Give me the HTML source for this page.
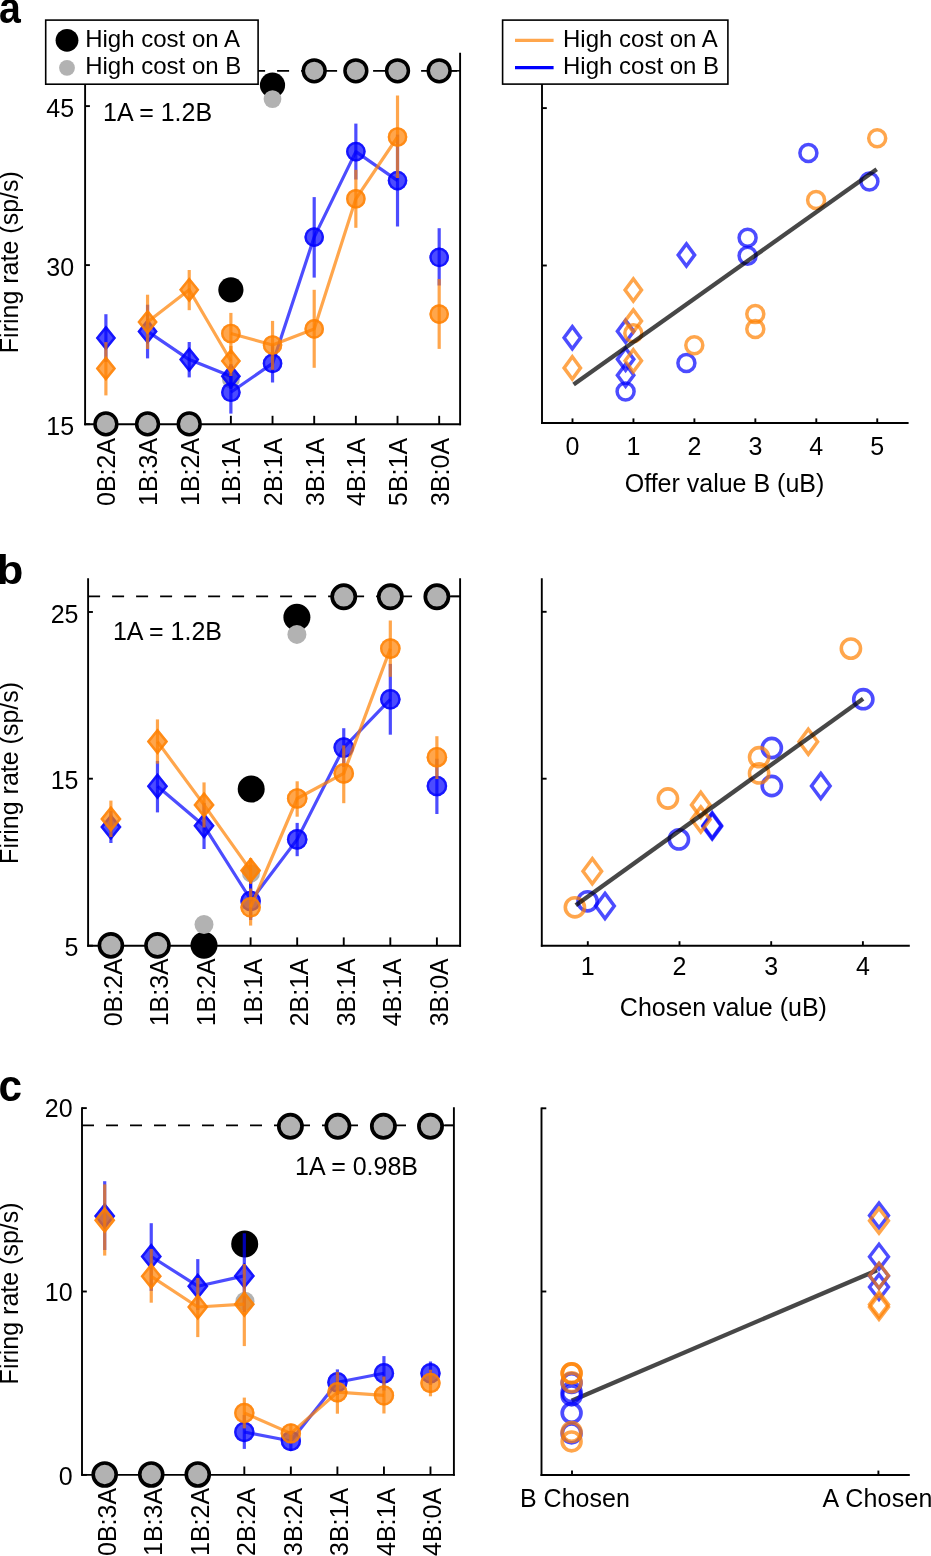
<!DOCTYPE html>
<html lang="en">
<head>
<meta charset="utf-8">
<title>Figure</title>
<style>
html,body{margin:0;padding:0;background:#fff;}
body{width:931px;height:1556px;overflow:hidden;}
svg{display:block;}
svg text{font-family:"Liberation Sans",sans-serif;fill:#000;}
</style>
</head>
<body>
<svg width="931" height="1556" viewBox="0 0 931 1556">
<rect x="0" y="0" width="931" height="1556" fill="#fff"/>
<line x1="85.10" y1="52.80" x2="85.10" y2="425.15" stroke="#000" stroke-width="1.9" />
<line x1="460.10" y1="52.80" x2="460.10" y2="425.15" stroke="#000" stroke-width="1.9" />
<line x1="84.15" y1="424.20" x2="461.05" y2="424.20" stroke="#000" stroke-width="1.9" />
<line x1="85.10" y1="106.10" x2="89.90" y2="106.10" stroke="#000" stroke-width="1.9" />
<text x="74.10" y="116.60" font-size="25" font-weight="normal" text-anchor="end" >45</text>
<line x1="85.10" y1="265.10" x2="89.90" y2="265.10" stroke="#000" stroke-width="1.9" />
<text x="74.10" y="275.60" font-size="25" font-weight="normal" text-anchor="end" >30</text>
<line x1="85.10" y1="424.20" x2="89.90" y2="424.20" stroke="#000" stroke-width="1.9" />
<text x="74.10" y="434.70" font-size="25" font-weight="normal" text-anchor="end" >15</text>
<line x1="105.90" y1="424.20" x2="105.90" y2="415.80" stroke="#000" stroke-width="1.9" />
<text x="115.50" y="437.90" font-size="25" font-weight="normal" text-anchor="end" transform="rotate(-90 115.50 437.90)" >0B:2A</text>
<line x1="147.56" y1="424.20" x2="147.56" y2="415.80" stroke="#000" stroke-width="1.9" />
<text x="157.16" y="437.90" font-size="25" font-weight="normal" text-anchor="end" transform="rotate(-90 157.16 437.90)" >1B:3A</text>
<line x1="189.22" y1="424.20" x2="189.22" y2="415.80" stroke="#000" stroke-width="1.9" />
<text x="198.82" y="437.90" font-size="25" font-weight="normal" text-anchor="end" transform="rotate(-90 198.82 437.90)" >1B:2A</text>
<line x1="230.88" y1="424.20" x2="230.88" y2="415.80" stroke="#000" stroke-width="1.9" />
<text x="240.48" y="437.90" font-size="25" font-weight="normal" text-anchor="end" transform="rotate(-90 240.48 437.90)" >1B:1A</text>
<line x1="272.54" y1="424.20" x2="272.54" y2="415.80" stroke="#000" stroke-width="1.9" />
<text x="282.14" y="437.90" font-size="25" font-weight="normal" text-anchor="end" transform="rotate(-90 282.14 437.90)" >2B:1A</text>
<line x1="314.20" y1="424.20" x2="314.20" y2="415.80" stroke="#000" stroke-width="1.9" />
<text x="323.80" y="437.90" font-size="25" font-weight="normal" text-anchor="end" transform="rotate(-90 323.80 437.90)" >3B:1A</text>
<line x1="355.86" y1="424.20" x2="355.86" y2="415.80" stroke="#000" stroke-width="1.9" />
<text x="365.46" y="437.90" font-size="25" font-weight="normal" text-anchor="end" transform="rotate(-90 365.46 437.90)" >4B:1A</text>
<line x1="397.52" y1="424.20" x2="397.52" y2="415.80" stroke="#000" stroke-width="1.9" />
<text x="407.12" y="437.90" font-size="25" font-weight="normal" text-anchor="end" transform="rotate(-90 407.12 437.90)" >5B:1A</text>
<line x1="439.18" y1="424.20" x2="439.18" y2="415.80" stroke="#000" stroke-width="1.9" />
<text x="448.78" y="437.90" font-size="25" font-weight="normal" text-anchor="end" transform="rotate(-90 448.78 437.90)" >3B:0A</text>
<line x1="85.10" y1="70.80" x2="460.10" y2="70.80" stroke="#000" stroke-width="1.7" stroke-dasharray="12 12"/>
<line x1="451.10" y1="70.80" x2="460.10" y2="70.80" stroke="#000" stroke-width="1.5" />
<text x="18.40" y="262.20" font-size="25" font-weight="normal" text-anchor="middle" transform="rotate(-90 18.40 262.20)" >Firing rate (sp/s)</text>
<text x="103.00" y="120.60" font-size="25" font-weight="normal" text-anchor="start" >1A = 1.2B</text>
<circle cx="230.90" cy="289.80" r="12.6" fill="#000"/>
<circle cx="230.90" cy="379.50" r="8.9" fill="#b2b2b2"/>
<circle cx="272.50" cy="85.10" r="12.6" fill="#000"/>
<circle cx="272.50" cy="99.10" r="8.9" fill="#b2b2b2"/>
<line x1="105.90" y1="314.20" x2="105.90" y2="361.80" stroke="#0000ff" stroke-width="3.2" stroke-opacity="0.7"/>
<line x1="147.56" y1="304.70" x2="147.56" y2="358.40" stroke="#0000ff" stroke-width="3.2" stroke-opacity="0.7"/>
<line x1="189.22" y1="342.00" x2="189.22" y2="377.40" stroke="#0000ff" stroke-width="3.2" stroke-opacity="0.7"/>
<line x1="230.88" y1="364.00" x2="230.88" y2="389.00" stroke="#0000ff" stroke-width="3.2" stroke-opacity="0.7"/>
<line x1="230.88" y1="371.00" x2="230.88" y2="413.60" stroke="#0000ff" stroke-width="3.2" stroke-opacity="0.7"/>
<line x1="272.54" y1="344.30" x2="272.54" y2="382.50" stroke="#0000ff" stroke-width="3.2" stroke-opacity="0.7"/>
<line x1="314.20" y1="197.10" x2="314.20" y2="277.60" stroke="#0000ff" stroke-width="3.2" stroke-opacity="0.7"/>
<line x1="355.86" y1="123.60" x2="355.86" y2="179.50" stroke="#0000ff" stroke-width="3.2" stroke-opacity="0.7"/>
<line x1="397.52" y1="134.60" x2="397.52" y2="226.50" stroke="#0000ff" stroke-width="3.2" stroke-opacity="0.7"/>
<line x1="439.18" y1="228.20" x2="439.18" y2="285.50" stroke="#0000ff" stroke-width="3.2" stroke-opacity="0.7"/>
<polyline points="147.56,331.40 189.22,359.60 230.88,376.30" fill="none" stroke="#0000ff" stroke-width="3.2" stroke-opacity="0.7" stroke-linejoin="round"/>
<polyline points="230.88,392.30 272.54,363.40 314.20,237.10 355.86,151.60 397.52,180.60" fill="none" stroke="#0000ff" stroke-width="3.2" stroke-opacity="0.7" stroke-linejoin="round"/>
<polygon points="105.90,325.40 116.00,338.00 105.90,350.60 95.80,338.00" fill="#0000ff" fill-opacity="0.7"/>
<polygon points="105.90,327.40 114.40,338.00 105.90,348.60 97.40,338.00" fill="none" stroke="#0000ff" stroke-width="2.5" stroke-opacity="0.7" stroke-linejoin="miter" stroke-miterlimit="10"/>
<polygon points="147.56,318.80 157.66,331.40 147.56,344.00 137.46,331.40" fill="#0000ff" fill-opacity="0.7"/>
<polygon points="147.56,320.80 156.06,331.40 147.56,342.00 139.06,331.40" fill="none" stroke="#0000ff" stroke-width="2.5" stroke-opacity="0.7" stroke-linejoin="miter" stroke-miterlimit="10"/>
<polygon points="189.22,347.00 199.32,359.60 189.22,372.20 179.12,359.60" fill="#0000ff" fill-opacity="0.7"/>
<polygon points="189.22,349.00 197.72,359.60 189.22,370.20 180.72,359.60" fill="none" stroke="#0000ff" stroke-width="2.5" stroke-opacity="0.7" stroke-linejoin="miter" stroke-miterlimit="10"/>
<polygon points="230.88,363.70 240.98,376.30 230.88,388.90 220.78,376.30" fill="#0000ff" fill-opacity="0.7"/>
<polygon points="230.88,365.70 239.38,376.30 230.88,386.90 222.38,376.30" fill="none" stroke="#0000ff" stroke-width="2.5" stroke-opacity="0.7" stroke-linejoin="miter" stroke-miterlimit="10"/>
<circle cx="230.88" cy="392.30" r="9.80" fill="#0000ff" fill-opacity="0.7"/>
<circle cx="230.88" cy="392.30" r="8.60" fill="none" stroke="#0000ff" stroke-width="2.4" stroke-opacity="0.7"/>
<circle cx="272.54" cy="363.40" r="9.80" fill="#0000ff" fill-opacity="0.7"/>
<circle cx="272.54" cy="363.40" r="8.60" fill="none" stroke="#0000ff" stroke-width="2.4" stroke-opacity="0.7"/>
<circle cx="314.20" cy="237.10" r="9.80" fill="#0000ff" fill-opacity="0.7"/>
<circle cx="314.20" cy="237.10" r="8.60" fill="none" stroke="#0000ff" stroke-width="2.4" stroke-opacity="0.7"/>
<circle cx="355.86" cy="151.60" r="9.80" fill="#0000ff" fill-opacity="0.7"/>
<circle cx="355.86" cy="151.60" r="8.60" fill="none" stroke="#0000ff" stroke-width="2.4" stroke-opacity="0.7"/>
<circle cx="397.52" cy="180.60" r="9.80" fill="#0000ff" fill-opacity="0.7"/>
<circle cx="397.52" cy="180.60" r="8.60" fill="none" stroke="#0000ff" stroke-width="2.4" stroke-opacity="0.7"/>
<circle cx="439.18" cy="257.40" r="9.80" fill="#0000ff" fill-opacity="0.7"/>
<circle cx="439.18" cy="257.40" r="8.60" fill="none" stroke="#0000ff" stroke-width="2.4" stroke-opacity="0.7"/>
<line x1="105.90" y1="342.10" x2="105.90" y2="395.40" stroke="#ff8000" stroke-width="3.2" stroke-opacity="0.7"/>
<line x1="147.56" y1="294.70" x2="147.56" y2="349.00" stroke="#ff8000" stroke-width="3.2" stroke-opacity="0.7"/>
<line x1="189.22" y1="270.00" x2="189.22" y2="310.20" stroke="#ff8000" stroke-width="3.2" stroke-opacity="0.7"/>
<line x1="230.88" y1="346.00" x2="230.88" y2="376.00" stroke="#ff8000" stroke-width="3.2" stroke-opacity="0.7"/>
<line x1="230.88" y1="312.90" x2="230.88" y2="354.00" stroke="#ff8000" stroke-width="3.2" stroke-opacity="0.7"/>
<line x1="272.54" y1="320.90" x2="272.54" y2="369.80" stroke="#ff8000" stroke-width="3.2" stroke-opacity="0.7"/>
<line x1="314.20" y1="289.80" x2="314.20" y2="367.80" stroke="#ff8000" stroke-width="3.2" stroke-opacity="0.7"/>
<line x1="355.86" y1="169.80" x2="355.86" y2="227.80" stroke="#ff8000" stroke-width="3.2" stroke-opacity="0.7"/>
<line x1="397.52" y1="95.50" x2="397.52" y2="178.00" stroke="#ff8000" stroke-width="3.2" stroke-opacity="0.7"/>
<line x1="439.18" y1="279.00" x2="439.18" y2="348.90" stroke="#ff8000" stroke-width="3.2" stroke-opacity="0.7"/>
<polyline points="147.56,322.00 189.22,289.80 230.88,361.00" fill="none" stroke="#ff8000" stroke-width="3.2" stroke-opacity="0.7" stroke-linejoin="round"/>
<polyline points="230.88,333.50 272.54,345.00 314.20,328.90 355.86,198.80 397.52,137.00" fill="none" stroke="#ff8000" stroke-width="3.2" stroke-opacity="0.7" stroke-linejoin="round"/>
<polygon points="105.90,355.90 116.00,368.50 105.90,381.10 95.80,368.50" fill="#ff8000" fill-opacity="0.7"/>
<polygon points="105.90,357.90 114.40,368.50 105.90,379.10 97.40,368.50" fill="none" stroke="#ff8000" stroke-width="2.5" stroke-opacity="0.7" stroke-linejoin="miter" stroke-miterlimit="10"/>
<polygon points="147.56,309.40 157.66,322.00 147.56,334.60 137.46,322.00" fill="#ff8000" fill-opacity="0.7"/>
<polygon points="147.56,311.40 156.06,322.00 147.56,332.60 139.06,322.00" fill="none" stroke="#ff8000" stroke-width="2.5" stroke-opacity="0.7" stroke-linejoin="miter" stroke-miterlimit="10"/>
<polygon points="189.22,277.20 199.32,289.80 189.22,302.40 179.12,289.80" fill="#ff8000" fill-opacity="0.7"/>
<polygon points="189.22,279.20 197.72,289.80 189.22,300.40 180.72,289.80" fill="none" stroke="#ff8000" stroke-width="2.5" stroke-opacity="0.7" stroke-linejoin="miter" stroke-miterlimit="10"/>
<polygon points="230.88,348.40 240.98,361.00 230.88,373.60 220.78,361.00" fill="#ff8000" fill-opacity="0.7"/>
<polygon points="230.88,350.40 239.38,361.00 230.88,371.60 222.38,361.00" fill="none" stroke="#ff8000" stroke-width="2.5" stroke-opacity="0.7" stroke-linejoin="miter" stroke-miterlimit="10"/>
<circle cx="230.88" cy="333.50" r="9.80" fill="#ff8000" fill-opacity="0.7"/>
<circle cx="230.88" cy="333.50" r="8.60" fill="none" stroke="#ff8000" stroke-width="2.4" stroke-opacity="0.7"/>
<circle cx="272.54" cy="345.00" r="9.80" fill="#ff8000" fill-opacity="0.7"/>
<circle cx="272.54" cy="345.00" r="8.60" fill="none" stroke="#ff8000" stroke-width="2.4" stroke-opacity="0.7"/>
<circle cx="314.20" cy="328.90" r="9.80" fill="#ff8000" fill-opacity="0.7"/>
<circle cx="314.20" cy="328.90" r="8.60" fill="none" stroke="#ff8000" stroke-width="2.4" stroke-opacity="0.7"/>
<circle cx="355.86" cy="198.80" r="9.80" fill="#ff8000" fill-opacity="0.7"/>
<circle cx="355.86" cy="198.80" r="8.60" fill="none" stroke="#ff8000" stroke-width="2.4" stroke-opacity="0.7"/>
<circle cx="397.52" cy="137.00" r="9.80" fill="#ff8000" fill-opacity="0.7"/>
<circle cx="397.52" cy="137.00" r="8.60" fill="none" stroke="#ff8000" stroke-width="2.4" stroke-opacity="0.7"/>
<circle cx="439.18" cy="314.10" r="9.80" fill="#ff8000" fill-opacity="0.7"/>
<circle cx="439.18" cy="314.10" r="8.60" fill="none" stroke="#ff8000" stroke-width="2.4" stroke-opacity="0.7"/>
<circle cx="105.90" cy="423.90" r="10.9" fill="#b2b2b2" stroke="#000" stroke-width="3.5"/>
<circle cx="147.56" cy="423.90" r="10.9" fill="#b2b2b2" stroke="#000" stroke-width="3.5"/>
<circle cx="189.22" cy="423.90" r="10.9" fill="#b2b2b2" stroke="#000" stroke-width="3.5"/>
<circle cx="314.20" cy="70.80" r="10.9" fill="#b2b2b2" stroke="#000" stroke-width="3.5"/>
<circle cx="355.86" cy="70.80" r="10.9" fill="#b2b2b2" stroke="#000" stroke-width="3.5"/>
<circle cx="397.52" cy="70.80" r="10.9" fill="#b2b2b2" stroke="#000" stroke-width="3.5"/>
<circle cx="439.18" cy="70.80" r="10.9" fill="#b2b2b2" stroke="#000" stroke-width="3.5"/>
<rect x="45.7" y="20.1" width="212.4" height="64.1" fill="#fff" stroke="#000" stroke-width="1.6"/>
<circle cx="67.00" cy="40.30" r="11.4" fill="#000"/>
<circle cx="67.00" cy="67.80" r="7.9" fill="#b2b2b2"/>
<text x="85.20" y="46.60" font-size="24" font-weight="normal" text-anchor="start" >High cost on A</text>
<text x="85.20" y="73.80" font-size="24" font-weight="normal" text-anchor="start" >High cost on B</text>
<text transform="translate(-1.0,22.7) scale(0.895,1)" font-size="43.8" font-weight="bold">a</text>
<line x1="542.00" y1="52.80" x2="542.00" y2="423.95" stroke="#000" stroke-width="1.9" />
<line x1="541.05" y1="423.00" x2="908.60" y2="423.00" stroke="#000" stroke-width="1.9" />
<line x1="542.00" y1="108.10" x2="546.80" y2="108.10" stroke="#000" stroke-width="1.9" />
<line x1="542.00" y1="265.50" x2="546.80" y2="265.50" stroke="#000" stroke-width="1.9" />
<line x1="572.50" y1="423.00" x2="572.50" y2="418.40" stroke="#000" stroke-width="1.9" />
<text x="572.50" y="454.50" font-size="25" font-weight="normal" text-anchor="middle" >0</text>
<line x1="633.45" y1="423.00" x2="633.45" y2="418.40" stroke="#000" stroke-width="1.9" />
<text x="633.45" y="454.50" font-size="25" font-weight="normal" text-anchor="middle" >1</text>
<line x1="694.40" y1="423.00" x2="694.40" y2="418.40" stroke="#000" stroke-width="1.9" />
<text x="694.40" y="454.50" font-size="25" font-weight="normal" text-anchor="middle" >2</text>
<line x1="755.35" y1="423.00" x2="755.35" y2="418.40" stroke="#000" stroke-width="1.9" />
<text x="755.35" y="454.50" font-size="25" font-weight="normal" text-anchor="middle" >3</text>
<line x1="816.30" y1="423.00" x2="816.30" y2="418.40" stroke="#000" stroke-width="1.9" />
<text x="816.30" y="454.50" font-size="25" font-weight="normal" text-anchor="middle" >4</text>
<line x1="877.25" y1="423.00" x2="877.25" y2="418.40" stroke="#000" stroke-width="1.9" />
<text x="877.25" y="454.50" font-size="25" font-weight="normal" text-anchor="middle" >5</text>
<text x="724.50" y="491.90" font-size="25" font-weight="normal" text-anchor="middle" >Offer value B (uB)</text>
<circle cx="625.60" cy="391.60" r="8.5" fill="none" stroke="#0000ff" stroke-width="3.5" stroke-opacity="0.7"/>
<circle cx="686.40" cy="363.00" r="8.5" fill="none" stroke="#0000ff" stroke-width="3.5" stroke-opacity="0.7"/>
<circle cx="747.60" cy="255.70" r="8.5" fill="none" stroke="#0000ff" stroke-width="3.5" stroke-opacity="0.7"/>
<circle cx="747.60" cy="237.70" r="8.5" fill="none" stroke="#0000ff" stroke-width="3.5" stroke-opacity="0.7"/>
<circle cx="808.40" cy="153.10" r="8.5" fill="none" stroke="#0000ff" stroke-width="3.5" stroke-opacity="0.7"/>
<circle cx="869.40" cy="181.60" r="8.5" fill="none" stroke="#0000ff" stroke-width="3.5" stroke-opacity="0.7"/>
<polygon points="572.30,326.60 580.50,337.70 572.30,348.80 564.10,337.70" fill="none" stroke="#0000ff" stroke-width="3.5" stroke-opacity="0.7" stroke-linejoin="miter" stroke-miterlimit="10"/>
<polygon points="625.60,320.20 633.80,331.30 625.60,342.40 617.40,331.30" fill="none" stroke="#0000ff" stroke-width="3.5" stroke-opacity="0.7" stroke-linejoin="miter" stroke-miterlimit="10"/>
<polygon points="625.60,348.20 633.80,359.30 625.60,370.40 617.40,359.30" fill="none" stroke="#0000ff" stroke-width="3.5" stroke-opacity="0.7" stroke-linejoin="miter" stroke-miterlimit="10"/>
<polygon points="625.60,364.10 633.80,375.20 625.60,386.30 617.40,375.20" fill="none" stroke="#0000ff" stroke-width="3.5" stroke-opacity="0.7" stroke-linejoin="miter" stroke-miterlimit="10"/>
<polygon points="686.40,243.90 694.60,255.00 686.40,266.10 678.20,255.00" fill="none" stroke="#0000ff" stroke-width="3.5" stroke-opacity="0.7" stroke-linejoin="miter" stroke-miterlimit="10"/>
<circle cx="633.30" cy="333.20" r="8.5" fill="none" stroke="#ff8000" stroke-width="3.5" stroke-opacity="0.7"/>
<circle cx="694.30" cy="345.20" r="8.5" fill="none" stroke="#ff8000" stroke-width="3.5" stroke-opacity="0.7"/>
<circle cx="755.30" cy="328.90" r="8.5" fill="none" stroke="#ff8000" stroke-width="3.5" stroke-opacity="0.7"/>
<circle cx="755.30" cy="314.10" r="8.5" fill="none" stroke="#ff8000" stroke-width="3.5" stroke-opacity="0.7"/>
<circle cx="816.10" cy="199.90" r="8.5" fill="none" stroke="#ff8000" stroke-width="3.5" stroke-opacity="0.7"/>
<circle cx="877.20" cy="138.20" r="8.5" fill="none" stroke="#ff8000" stroke-width="3.5" stroke-opacity="0.7"/>
<polygon points="572.30,356.80 580.50,367.90 572.30,379.00 564.10,367.90" fill="none" stroke="#ff8000" stroke-width="3.5" stroke-opacity="0.7" stroke-linejoin="miter" stroke-miterlimit="10"/>
<polygon points="633.30,309.90 641.50,321.00 633.30,332.10 625.10,321.00" fill="none" stroke="#ff8000" stroke-width="3.5" stroke-opacity="0.7" stroke-linejoin="miter" stroke-miterlimit="10"/>
<polygon points="633.30,278.90 641.50,290.00 633.30,301.10 625.10,290.00" fill="none" stroke="#ff8000" stroke-width="3.5" stroke-opacity="0.7" stroke-linejoin="miter" stroke-miterlimit="10"/>
<polygon points="633.30,349.70 641.50,360.80 633.30,371.90 625.10,360.80" fill="none" stroke="#ff8000" stroke-width="3.5" stroke-opacity="0.7" stroke-linejoin="miter" stroke-miterlimit="10"/>
<line x1="573.60" y1="384.50" x2="876.70" y2="169.20" stroke="#000" stroke-width="4.3" stroke-opacity="0.72"/>
<rect x="502.6" y="20.1" width="225.3" height="64.0" fill="#fff" stroke="#000" stroke-width="1.6"/>
<line x1="515" y1="40.3" x2="553.6" y2="40.3" stroke="#ff8000" stroke-opacity="0.7" stroke-width="3.2"/>
<line x1="515" y1="67.7" x2="553.6" y2="67.7" stroke="#0000ff" stroke-width="3.2"/>
<text x="563.00" y="46.60" font-size="24" font-weight="normal" text-anchor="start" >High cost on A</text>
<text x="563.00" y="73.80" font-size="24" font-weight="normal" text-anchor="start" >High cost on B</text>
<line x1="88.10" y1="578.20" x2="88.10" y2="946.75" stroke="#000" stroke-width="1.9" />
<line x1="460.10" y1="578.20" x2="460.10" y2="946.75" stroke="#000" stroke-width="1.9" />
<line x1="87.15" y1="945.80" x2="461.05" y2="945.80" stroke="#000" stroke-width="1.9" />
<line x1="88.10" y1="612.00" x2="92.90" y2="612.00" stroke="#000" stroke-width="1.9" />
<text x="78.50" y="622.80" font-size="25" font-weight="normal" text-anchor="end" >25</text>
<line x1="88.10" y1="778.70" x2="92.90" y2="778.70" stroke="#000" stroke-width="1.9" />
<text x="78.50" y="789.20" font-size="25" font-weight="normal" text-anchor="end" >15</text>
<line x1="88.10" y1="945.70" x2="92.90" y2="945.70" stroke="#000" stroke-width="1.9" />
<text x="78.50" y="956.30" font-size="25" font-weight="normal" text-anchor="end" >5</text>
<line x1="110.90" y1="945.80" x2="110.90" y2="937.40" stroke="#000" stroke-width="1.9" />
<text x="121.90" y="958.20" font-size="25" font-weight="normal" text-anchor="end" transform="rotate(-90 121.90 958.20)" >0B:2A</text>
<line x1="157.47" y1="945.80" x2="157.47" y2="937.40" stroke="#000" stroke-width="1.9" />
<text x="168.47" y="958.20" font-size="25" font-weight="normal" text-anchor="end" transform="rotate(-90 168.47 958.20)" >1B:3A</text>
<line x1="204.04" y1="945.80" x2="204.04" y2="937.40" stroke="#000" stroke-width="1.9" />
<text x="215.04" y="958.20" font-size="25" font-weight="normal" text-anchor="end" transform="rotate(-90 215.04 958.20)" >1B:2A</text>
<line x1="250.61" y1="945.80" x2="250.61" y2="937.40" stroke="#000" stroke-width="1.9" />
<text x="261.61" y="958.20" font-size="25" font-weight="normal" text-anchor="end" transform="rotate(-90 261.61 958.20)" >1B:1A</text>
<line x1="297.18" y1="945.80" x2="297.18" y2="937.40" stroke="#000" stroke-width="1.9" />
<text x="308.18" y="958.20" font-size="25" font-weight="normal" text-anchor="end" transform="rotate(-90 308.18 958.20)" >2B:1A</text>
<line x1="343.75" y1="945.80" x2="343.75" y2="937.40" stroke="#000" stroke-width="1.9" />
<text x="354.75" y="958.20" font-size="25" font-weight="normal" text-anchor="end" transform="rotate(-90 354.75 958.20)" >3B:1A</text>
<line x1="390.32" y1="945.80" x2="390.32" y2="937.40" stroke="#000" stroke-width="1.9" />
<text x="401.32" y="958.20" font-size="25" font-weight="normal" text-anchor="end" transform="rotate(-90 401.32 958.20)" >4B:1A</text>
<line x1="436.89" y1="945.80" x2="436.89" y2="937.40" stroke="#000" stroke-width="1.9" />
<text x="447.89" y="958.20" font-size="25" font-weight="normal" text-anchor="end" transform="rotate(-90 447.89 958.20)" >3B:0A</text>
<line x1="88.10" y1="596.40" x2="460.10" y2="596.40" stroke="#000" stroke-width="1.7" stroke-dasharray="12 12"/>
<line x1="451.10" y1="596.40" x2="460.10" y2="596.40" stroke="#000" stroke-width="1.5" />
<text x="18.40" y="772.90" font-size="25" font-weight="normal" text-anchor="middle" transform="rotate(-90 18.40 772.90)" >Firing rate (sp/s)</text>
<text x="112.90" y="639.80" font-size="25" font-weight="normal" text-anchor="start" >1A = 1.2B</text>
<circle cx="251.20" cy="789.00" r="13.5" fill="#000"/>
<circle cx="251.00" cy="873.40" r="9.0" fill="#b2b2b2"/>
<circle cx="296.90" cy="617.30" r="13.5" fill="#000"/>
<circle cx="296.90" cy="634.40" r="9.5" fill="#b2b2b2"/>
<circle cx="204.00" cy="945.30" r="13.5" fill="#000"/>
<circle cx="204.00" cy="924.50" r="9.5" fill="#b2b2b2"/>
<line x1="110.90" y1="811.00" x2="110.90" y2="843.00" stroke="#0000ff" stroke-width="3.2" stroke-opacity="0.7"/>
<line x1="157.47" y1="760.90" x2="157.47" y2="812.40" stroke="#0000ff" stroke-width="3.2" stroke-opacity="0.7"/>
<line x1="204.04" y1="803.00" x2="204.04" y2="849.00" stroke="#0000ff" stroke-width="3.2" stroke-opacity="0.7"/>
<line x1="250.61" y1="881.00" x2="250.61" y2="918.00" stroke="#0000ff" stroke-width="3.2" stroke-opacity="0.7"/>
<line x1="250.61" y1="880.00" x2="250.61" y2="920.00" stroke="#0000ff" stroke-width="3.2" stroke-opacity="0.7"/>
<line x1="297.18" y1="822.90" x2="297.18" y2="856.20" stroke="#0000ff" stroke-width="3.2" stroke-opacity="0.7"/>
<line x1="343.75" y1="728.20" x2="343.75" y2="767.00" stroke="#0000ff" stroke-width="3.2" stroke-opacity="0.7"/>
<line x1="390.32" y1="663.90" x2="390.32" y2="734.70" stroke="#0000ff" stroke-width="3.2" stroke-opacity="0.7"/>
<line x1="436.89" y1="758.70" x2="436.89" y2="814.00" stroke="#0000ff" stroke-width="3.2" stroke-opacity="0.7"/>
<polyline points="157.47,786.20 204.04,825.80 250.61,899.50" fill="none" stroke="#0000ff" stroke-width="3.2" stroke-opacity="0.7" stroke-linejoin="round"/>
<polyline points="250.61,901.00 297.18,839.40 343.75,747.60 390.32,699.30" fill="none" stroke="#0000ff" stroke-width="3.2" stroke-opacity="0.7" stroke-linejoin="round"/>
<polygon points="110.90,813.90 121.50,827.10 110.90,840.30 100.30,827.10" fill="#0000ff" fill-opacity="0.7"/>
<polygon points="110.90,815.90 119.90,827.10 110.90,838.30 101.90,827.10" fill="none" stroke="#0000ff" stroke-width="2.5" stroke-opacity="0.7" stroke-linejoin="miter" stroke-miterlimit="10"/>
<polygon points="157.47,773.00 168.07,786.20 157.47,799.40 146.87,786.20" fill="#0000ff" fill-opacity="0.7"/>
<polygon points="157.47,775.00 166.47,786.20 157.47,797.40 148.47,786.20" fill="none" stroke="#0000ff" stroke-width="2.5" stroke-opacity="0.7" stroke-linejoin="miter" stroke-miterlimit="10"/>
<polygon points="204.04,812.60 214.64,825.80 204.04,839.00 193.44,825.80" fill="#0000ff" fill-opacity="0.7"/>
<polygon points="204.04,814.60 213.04,825.80 204.04,837.00 195.04,825.80" fill="none" stroke="#0000ff" stroke-width="2.5" stroke-opacity="0.7" stroke-linejoin="miter" stroke-miterlimit="10"/>
<circle cx="250.61" cy="901.00" r="10.30" fill="#0000ff" fill-opacity="0.7"/>
<circle cx="250.61" cy="901.00" r="9.10" fill="none" stroke="#0000ff" stroke-width="2.4" stroke-opacity="0.7"/>
<circle cx="297.18" cy="839.40" r="10.30" fill="#0000ff" fill-opacity="0.7"/>
<circle cx="297.18" cy="839.40" r="9.10" fill="none" stroke="#0000ff" stroke-width="2.4" stroke-opacity="0.7"/>
<circle cx="343.75" cy="747.60" r="10.30" fill="#0000ff" fill-opacity="0.7"/>
<circle cx="343.75" cy="747.60" r="9.10" fill="none" stroke="#0000ff" stroke-width="2.4" stroke-opacity="0.7"/>
<circle cx="390.32" cy="699.30" r="10.30" fill="#0000ff" fill-opacity="0.7"/>
<circle cx="390.32" cy="699.30" r="9.10" fill="none" stroke="#0000ff" stroke-width="2.4" stroke-opacity="0.7"/>
<circle cx="436.89" cy="786.00" r="10.30" fill="#0000ff" fill-opacity="0.7"/>
<circle cx="436.89" cy="786.00" r="9.10" fill="none" stroke="#0000ff" stroke-width="2.4" stroke-opacity="0.7"/>
<line x1="110.90" y1="800.60" x2="110.90" y2="837.00" stroke="#ff8000" stroke-width="3.2" stroke-opacity="0.7"/>
<line x1="157.47" y1="719.40" x2="157.47" y2="763.70" stroke="#ff8000" stroke-width="3.2" stroke-opacity="0.7"/>
<line x1="204.04" y1="782.40" x2="204.04" y2="827.50" stroke="#ff8000" stroke-width="3.2" stroke-opacity="0.7"/>
<line x1="250.61" y1="858.00" x2="250.61" y2="884.00" stroke="#ff8000" stroke-width="3.2" stroke-opacity="0.7"/>
<line x1="250.61" y1="888.50" x2="250.61" y2="925.60" stroke="#ff8000" stroke-width="3.2" stroke-opacity="0.7"/>
<line x1="297.18" y1="781.30" x2="297.18" y2="816.70" stroke="#ff8000" stroke-width="3.2" stroke-opacity="0.7"/>
<line x1="343.75" y1="745.40" x2="343.75" y2="803.20" stroke="#ff8000" stroke-width="3.2" stroke-opacity="0.7"/>
<line x1="390.32" y1="620.50" x2="390.32" y2="676.80" stroke="#ff8000" stroke-width="3.2" stroke-opacity="0.7"/>
<line x1="436.89" y1="736.20" x2="436.89" y2="779.00" stroke="#ff8000" stroke-width="3.2" stroke-opacity="0.7"/>
<polyline points="157.47,741.60 204.04,804.90 250.61,870.40" fill="none" stroke="#ff8000" stroke-width="3.2" stroke-opacity="0.7" stroke-linejoin="round"/>
<polyline points="250.61,907.30 297.18,798.50 343.75,773.40 390.32,648.60" fill="none" stroke="#ff8000" stroke-width="3.2" stroke-opacity="0.7" stroke-linejoin="round"/>
<polygon points="110.90,805.70 121.50,818.90 110.90,832.10 100.30,818.90" fill="#ff8000" fill-opacity="0.7"/>
<polygon points="110.90,807.70 119.90,818.90 110.90,830.10 101.90,818.90" fill="none" stroke="#ff8000" stroke-width="2.5" stroke-opacity="0.7" stroke-linejoin="miter" stroke-miterlimit="10"/>
<polygon points="157.47,728.40 168.07,741.60 157.47,754.80 146.87,741.60" fill="#ff8000" fill-opacity="0.7"/>
<polygon points="157.47,730.40 166.47,741.60 157.47,752.80 148.47,741.60" fill="none" stroke="#ff8000" stroke-width="2.5" stroke-opacity="0.7" stroke-linejoin="miter" stroke-miterlimit="10"/>
<polygon points="204.04,791.70 214.64,804.90 204.04,818.10 193.44,804.90" fill="#ff8000" fill-opacity="0.7"/>
<polygon points="204.04,793.70 213.04,804.90 204.04,816.10 195.04,804.90" fill="none" stroke="#ff8000" stroke-width="2.5" stroke-opacity="0.7" stroke-linejoin="miter" stroke-miterlimit="10"/>
<polygon points="250.61,857.20 261.21,870.40 250.61,883.60 240.01,870.40" fill="#ff8000" fill-opacity="0.7"/>
<polygon points="250.61,859.20 259.61,870.40 250.61,881.60 241.61,870.40" fill="none" stroke="#ff8000" stroke-width="2.5" stroke-opacity="0.7" stroke-linejoin="miter" stroke-miterlimit="10"/>
<circle cx="250.61" cy="907.30" r="10.30" fill="#ff8000" fill-opacity="0.7"/>
<circle cx="250.61" cy="907.30" r="9.10" fill="none" stroke="#ff8000" stroke-width="2.4" stroke-opacity="0.7"/>
<circle cx="297.18" cy="798.50" r="10.30" fill="#ff8000" fill-opacity="0.7"/>
<circle cx="297.18" cy="798.50" r="9.10" fill="none" stroke="#ff8000" stroke-width="2.4" stroke-opacity="0.7"/>
<circle cx="343.75" cy="773.40" r="10.30" fill="#ff8000" fill-opacity="0.7"/>
<circle cx="343.75" cy="773.40" r="9.10" fill="none" stroke="#ff8000" stroke-width="2.4" stroke-opacity="0.7"/>
<circle cx="390.32" cy="648.60" r="10.30" fill="#ff8000" fill-opacity="0.7"/>
<circle cx="390.32" cy="648.60" r="9.10" fill="none" stroke="#ff8000" stroke-width="2.4" stroke-opacity="0.7"/>
<circle cx="436.89" cy="757.20" r="10.30" fill="#ff8000" fill-opacity="0.7"/>
<circle cx="436.89" cy="757.20" r="9.10" fill="none" stroke="#ff8000" stroke-width="2.4" stroke-opacity="0.7"/>
<polygon points="251.01,859.10 260.01,870.30 251.01,881.50 242.01,870.30" fill="#ff8000" fill-opacity="0.4"/>
<circle cx="110.90" cy="945.40" r="11.5" fill="#b2b2b2" stroke="#000" stroke-width="3.6"/>
<circle cx="157.47" cy="945.40" r="11.5" fill="#b2b2b2" stroke="#000" stroke-width="3.6"/>
<circle cx="343.75" cy="596.80" r="11.6" fill="#b2b2b2" stroke="#000" stroke-width="3.7"/>
<circle cx="390.32" cy="596.80" r="11.6" fill="#b2b2b2" stroke="#000" stroke-width="3.7"/>
<circle cx="436.89" cy="596.80" r="11.6" fill="#b2b2b2" stroke="#000" stroke-width="3.7"/>
<text transform="translate(-3.2,583.6) scale(1.05,1)" font-size="41.5" font-weight="bold">b</text>
<line x1="541.80" y1="578.20" x2="541.80" y2="946.75" stroke="#000" stroke-width="1.9" />
<line x1="540.85" y1="945.80" x2="909.80" y2="945.80" stroke="#000" stroke-width="1.9" />
<line x1="541.80" y1="611.80" x2="546.60" y2="611.80" stroke="#000" stroke-width="1.9" />
<line x1="541.80" y1="778.70" x2="546.60" y2="778.70" stroke="#000" stroke-width="1.9" />
<line x1="587.80" y1="945.80" x2="587.80" y2="941.20" stroke="#000" stroke-width="1.9" />
<text x="587.80" y="974.80" font-size="25" font-weight="normal" text-anchor="middle" >1</text>
<line x1="679.50" y1="945.80" x2="679.50" y2="941.20" stroke="#000" stroke-width="1.9" />
<text x="679.50" y="974.80" font-size="25" font-weight="normal" text-anchor="middle" >2</text>
<line x1="771.20" y1="945.80" x2="771.20" y2="941.20" stroke="#000" stroke-width="1.9" />
<text x="771.20" y="974.80" font-size="25" font-weight="normal" text-anchor="middle" >3</text>
<line x1="862.90" y1="945.80" x2="862.90" y2="941.20" stroke="#000" stroke-width="1.9" />
<text x="862.90" y="974.80" font-size="25" font-weight="normal" text-anchor="middle" >4</text>
<text x="723.40" y="1015.80" font-size="25" font-weight="normal" text-anchor="middle" >Chosen value (uB)</text>
<circle cx="587.60" cy="901.30" r="9.6" fill="none" stroke="#0000ff" stroke-width="3.6" stroke-opacity="0.7"/>
<circle cx="678.90" cy="839.40" r="9.6" fill="none" stroke="#0000ff" stroke-width="3.6" stroke-opacity="0.7"/>
<circle cx="771.80" cy="748.00" r="9.6" fill="none" stroke="#0000ff" stroke-width="3.6" stroke-opacity="0.7"/>
<circle cx="771.80" cy="786.00" r="9.6" fill="none" stroke="#0000ff" stroke-width="3.6" stroke-opacity="0.7"/>
<circle cx="863.30" cy="699.20" r="9.6" fill="none" stroke="#0000ff" stroke-width="3.6" stroke-opacity="0.7"/>
<polygon points="605.00,893.40 614.30,906.00 605.00,918.60 595.70,906.00" fill="none" stroke="#0000ff" stroke-width="3.5" stroke-opacity="0.7" stroke-linejoin="miter" stroke-miterlimit="10"/>
<polygon points="712.20,813.80 721.50,826.40 712.20,839.00 702.90,826.40" fill="none" stroke="#0000ff" stroke-width="3.5" stroke-opacity="0.7" stroke-linejoin="miter" stroke-miterlimit="10"/>
<polygon points="712.20,812.80 721.50,825.40 712.20,838.00 702.90,825.40" fill="none" stroke="#0000ff" stroke-width="3.5" stroke-opacity="0.7" stroke-linejoin="miter" stroke-miterlimit="10"/>
<polygon points="820.80,773.40 830.10,786.00 820.80,798.60 811.50,786.00" fill="none" stroke="#0000ff" stroke-width="3.5" stroke-opacity="0.7" stroke-linejoin="miter" stroke-miterlimit="10"/>
<circle cx="574.90" cy="907.30" r="9.6" fill="none" stroke="#ff8000" stroke-width="3.6" stroke-opacity="0.7"/>
<circle cx="667.90" cy="798.50" r="9.6" fill="none" stroke="#ff8000" stroke-width="3.6" stroke-opacity="0.7"/>
<circle cx="759.10" cy="757.20" r="9.6" fill="none" stroke="#ff8000" stroke-width="3.6" stroke-opacity="0.7"/>
<circle cx="759.10" cy="773.40" r="9.6" fill="none" stroke="#ff8000" stroke-width="3.6" stroke-opacity="0.7"/>
<circle cx="850.90" cy="648.60" r="9.6" fill="none" stroke="#ff8000" stroke-width="3.6" stroke-opacity="0.7"/>
<polygon points="592.30,858.60 601.60,871.20 592.30,883.80 583.00,871.20" fill="none" stroke="#ff8000" stroke-width="3.5" stroke-opacity="0.7" stroke-linejoin="miter" stroke-miterlimit="10"/>
<polygon points="700.80,792.30 710.10,804.90 700.80,817.50 691.50,804.90" fill="none" stroke="#ff8000" stroke-width="3.5" stroke-opacity="0.7" stroke-linejoin="miter" stroke-miterlimit="10"/>
<polygon points="700.80,806.90 710.10,819.50 700.80,832.10 691.50,819.50" fill="none" stroke="#ff8000" stroke-width="3.5" stroke-opacity="0.7" stroke-linejoin="miter" stroke-miterlimit="10"/>
<polygon points="808.30,729.20 817.60,741.80 808.30,754.40 799.00,741.80" fill="none" stroke="#ff8000" stroke-width="3.5" stroke-opacity="0.7" stroke-linejoin="miter" stroke-miterlimit="10"/>
<line x1="575.80" y1="905.20" x2="863.10" y2="698.80" stroke="#000" stroke-width="4.3" stroke-opacity="0.72"/>
<line x1="82.00" y1="1107.30" x2="82.00" y2="1475.85" stroke="#000" stroke-width="1.9" />
<line x1="453.90" y1="1107.30" x2="453.90" y2="1475.85" stroke="#000" stroke-width="1.9" />
<line x1="81.05" y1="1474.90" x2="454.85" y2="1474.90" stroke="#000" stroke-width="1.9" />
<line x1="82.00" y1="1108.10" x2="86.80" y2="1108.10" stroke="#000" stroke-width="1.9" />
<text x="72.60" y="1116.50" font-size="25" font-weight="normal" text-anchor="end" >20</text>
<line x1="82.00" y1="1291.50" x2="86.80" y2="1291.50" stroke="#000" stroke-width="1.9" />
<text x="72.60" y="1300.80" font-size="25" font-weight="normal" text-anchor="end" >10</text>
<line x1="82.00" y1="1474.90" x2="86.80" y2="1474.90" stroke="#000" stroke-width="1.9" />
<text x="72.60" y="1484.80" font-size="25" font-weight="normal" text-anchor="end" >0</text>
<line x1="104.70" y1="1474.90" x2="104.70" y2="1466.50" stroke="#000" stroke-width="1.9" />
<text x="115.70" y="1487.90" font-size="25" font-weight="normal" text-anchor="end" transform="rotate(-90 115.70 1487.90)" >0B:3A</text>
<line x1="151.24" y1="1474.90" x2="151.24" y2="1466.50" stroke="#000" stroke-width="1.9" />
<text x="162.24" y="1487.90" font-size="25" font-weight="normal" text-anchor="end" transform="rotate(-90 162.24 1487.90)" >1B:3A</text>
<line x1="197.78" y1="1474.90" x2="197.78" y2="1466.50" stroke="#000" stroke-width="1.9" />
<text x="208.78" y="1487.90" font-size="25" font-weight="normal" text-anchor="end" transform="rotate(-90 208.78 1487.90)" >1B:2A</text>
<line x1="244.32" y1="1474.90" x2="244.32" y2="1466.50" stroke="#000" stroke-width="1.9" />
<text x="255.32" y="1487.90" font-size="25" font-weight="normal" text-anchor="end" transform="rotate(-90 255.32 1487.90)" >2B:2A</text>
<line x1="290.86" y1="1474.90" x2="290.86" y2="1466.50" stroke="#000" stroke-width="1.9" />
<text x="301.86" y="1487.90" font-size="25" font-weight="normal" text-anchor="end" transform="rotate(-90 301.86 1487.90)" >3B:2A</text>
<line x1="337.40" y1="1474.90" x2="337.40" y2="1466.50" stroke="#000" stroke-width="1.9" />
<text x="348.40" y="1487.90" font-size="25" font-weight="normal" text-anchor="end" transform="rotate(-90 348.40 1487.90)" >3B:1A</text>
<line x1="383.94" y1="1474.90" x2="383.94" y2="1466.50" stroke="#000" stroke-width="1.9" />
<text x="394.94" y="1487.90" font-size="25" font-weight="normal" text-anchor="end" transform="rotate(-90 394.94 1487.90)" >4B:1A</text>
<line x1="430.48" y1="1474.90" x2="430.48" y2="1466.50" stroke="#000" stroke-width="1.9" />
<text x="441.48" y="1487.90" font-size="25" font-weight="normal" text-anchor="end" transform="rotate(-90 441.48 1487.90)" >4B:0A</text>
<line x1="82.00" y1="1125.40" x2="453.90" y2="1125.40" stroke="#000" stroke-width="1.7" stroke-dasharray="12 12"/>
<line x1="444.90" y1="1125.40" x2="453.90" y2="1125.40" stroke="#000" stroke-width="1.5" />
<text x="18.40" y="1293.40" font-size="25" font-weight="normal" text-anchor="middle" transform="rotate(-90 18.40 1293.40)" >Firing rate (sp/s)</text>
<text x="295.00" y="1174.50" font-size="25" font-weight="normal" text-anchor="start" >1A = 0.98B</text>
<circle cx="244.70" cy="1244.00" r="13.5" fill="#000"/>
<circle cx="245.00" cy="1301.20" r="9.5" fill="#b2b2b2"/>
<line x1="104.70" y1="1181.20" x2="104.70" y2="1250.00" stroke="#0000ff" stroke-width="3.2" stroke-opacity="0.7"/>
<line x1="151.24" y1="1223.20" x2="151.24" y2="1290.90" stroke="#0000ff" stroke-width="3.2" stroke-opacity="0.7"/>
<line x1="197.78" y1="1259.10" x2="197.78" y2="1310.00" stroke="#0000ff" stroke-width="3.2" stroke-opacity="0.7"/>
<line x1="244.32" y1="1233.30" x2="244.32" y2="1312.00" stroke="#0000ff" stroke-width="3.2" stroke-opacity="0.7"/>
<line x1="244.32" y1="1415.00" x2="244.32" y2="1448.90" stroke="#0000ff" stroke-width="3.2" stroke-opacity="0.7"/>
<line x1="290.86" y1="1431.00" x2="290.86" y2="1451.00" stroke="#0000ff" stroke-width="3.2" stroke-opacity="0.7"/>
<line x1="337.40" y1="1369.40" x2="337.40" y2="1395.00" stroke="#0000ff" stroke-width="3.2" stroke-opacity="0.7"/>
<line x1="383.94" y1="1356.10" x2="383.94" y2="1390.50" stroke="#0000ff" stroke-width="3.2" stroke-opacity="0.7"/>
<line x1="430.48" y1="1361.50" x2="430.48" y2="1385.00" stroke="#0000ff" stroke-width="3.2" stroke-opacity="0.7"/>
<polyline points="151.24,1256.50 197.78,1286.20 244.32,1275.90" fill="none" stroke="#0000ff" stroke-width="3.2" stroke-opacity="0.7" stroke-linejoin="round"/>
<polyline points="244.32,1432.00 290.86,1441.00 337.40,1382.30 383.94,1373.30" fill="none" stroke="#0000ff" stroke-width="3.2" stroke-opacity="0.7" stroke-linejoin="round"/>
<polygon points="104.70,1202.80 115.30,1216.00 104.70,1229.20 94.10,1216.00" fill="#0000ff" fill-opacity="0.7"/>
<polygon points="104.70,1204.80 113.70,1216.00 104.70,1227.20 95.70,1216.00" fill="none" stroke="#0000ff" stroke-width="2.5" stroke-opacity="0.7" stroke-linejoin="miter" stroke-miterlimit="10"/>
<polygon points="151.24,1243.30 161.84,1256.50 151.24,1269.70 140.64,1256.50" fill="#0000ff" fill-opacity="0.7"/>
<polygon points="151.24,1245.30 160.24,1256.50 151.24,1267.70 142.24,1256.50" fill="none" stroke="#0000ff" stroke-width="2.5" stroke-opacity="0.7" stroke-linejoin="miter" stroke-miterlimit="10"/>
<polygon points="197.78,1273.00 208.38,1286.20 197.78,1299.40 187.18,1286.20" fill="#0000ff" fill-opacity="0.7"/>
<polygon points="197.78,1275.00 206.78,1286.20 197.78,1297.40 188.78,1286.20" fill="none" stroke="#0000ff" stroke-width="2.5" stroke-opacity="0.7" stroke-linejoin="miter" stroke-miterlimit="10"/>
<polygon points="244.32,1262.70 254.92,1275.90 244.32,1289.10 233.72,1275.90" fill="#0000ff" fill-opacity="0.7"/>
<polygon points="244.32,1264.70 253.32,1275.90 244.32,1287.10 235.32,1275.90" fill="none" stroke="#0000ff" stroke-width="2.5" stroke-opacity="0.7" stroke-linejoin="miter" stroke-miterlimit="10"/>
<circle cx="244.32" cy="1432.00" r="10.20" fill="#0000ff" fill-opacity="0.7"/>
<circle cx="244.32" cy="1432.00" r="9.00" fill="none" stroke="#0000ff" stroke-width="2.4" stroke-opacity="0.7"/>
<circle cx="290.86" cy="1441.00" r="10.20" fill="#0000ff" fill-opacity="0.7"/>
<circle cx="290.86" cy="1441.00" r="9.00" fill="none" stroke="#0000ff" stroke-width="2.4" stroke-opacity="0.7"/>
<circle cx="337.40" cy="1382.30" r="10.20" fill="#0000ff" fill-opacity="0.7"/>
<circle cx="337.40" cy="1382.30" r="9.00" fill="none" stroke="#0000ff" stroke-width="2.4" stroke-opacity="0.7"/>
<circle cx="383.94" cy="1373.30" r="10.20" fill="#0000ff" fill-opacity="0.7"/>
<circle cx="383.94" cy="1373.30" r="9.00" fill="none" stroke="#0000ff" stroke-width="2.4" stroke-opacity="0.7"/>
<circle cx="430.48" cy="1373.30" r="10.20" fill="#0000ff" fill-opacity="0.7"/>
<circle cx="430.48" cy="1373.30" r="9.00" fill="none" stroke="#0000ff" stroke-width="2.4" stroke-opacity="0.7"/>
<line x1="104.70" y1="1184.40" x2="104.70" y2="1255.60" stroke="#ff8000" stroke-width="3.2" stroke-opacity="0.7"/>
<line x1="151.24" y1="1249.00" x2="151.24" y2="1302.70" stroke="#ff8000" stroke-width="3.2" stroke-opacity="0.7"/>
<line x1="197.78" y1="1278.00" x2="197.78" y2="1337.10" stroke="#ff8000" stroke-width="3.2" stroke-opacity="0.7"/>
<line x1="244.32" y1="1264.00" x2="244.32" y2="1346.10" stroke="#ff8000" stroke-width="3.2" stroke-opacity="0.7"/>
<line x1="244.32" y1="1397.60" x2="244.32" y2="1428.40" stroke="#ff8000" stroke-width="3.2" stroke-opacity="0.7"/>
<line x1="290.86" y1="1424.00" x2="290.86" y2="1443.00" stroke="#ff8000" stroke-width="3.2" stroke-opacity="0.7"/>
<line x1="337.40" y1="1372.00" x2="337.40" y2="1413.70" stroke="#ff8000" stroke-width="3.2" stroke-opacity="0.7"/>
<line x1="383.94" y1="1376.50" x2="383.94" y2="1413.50" stroke="#ff8000" stroke-width="3.2" stroke-opacity="0.7"/>
<line x1="430.48" y1="1369.70" x2="430.48" y2="1396.30" stroke="#ff8000" stroke-width="3.2" stroke-opacity="0.7"/>
<polyline points="151.24,1276.30 197.78,1307.00 244.32,1304.20" fill="none" stroke="#ff8000" stroke-width="3.2" stroke-opacity="0.7" stroke-linejoin="round"/>
<polyline points="244.32,1413.00 290.86,1433.40 337.40,1392.20 383.94,1395.40" fill="none" stroke="#ff8000" stroke-width="3.2" stroke-opacity="0.7" stroke-linejoin="round"/>
<polygon points="104.70,1207.10 115.30,1220.30 104.70,1233.50 94.10,1220.30" fill="#ff8000" fill-opacity="0.7"/>
<polygon points="104.70,1209.10 113.70,1220.30 104.70,1231.50 95.70,1220.30" fill="none" stroke="#ff8000" stroke-width="2.5" stroke-opacity="0.7" stroke-linejoin="miter" stroke-miterlimit="10"/>
<polygon points="151.24,1263.10 161.84,1276.30 151.24,1289.50 140.64,1276.30" fill="#ff8000" fill-opacity="0.7"/>
<polygon points="151.24,1265.10 160.24,1276.30 151.24,1287.50 142.24,1276.30" fill="none" stroke="#ff8000" stroke-width="2.5" stroke-opacity="0.7" stroke-linejoin="miter" stroke-miterlimit="10"/>
<polygon points="197.78,1293.80 208.38,1307.00 197.78,1320.20 187.18,1307.00" fill="#ff8000" fill-opacity="0.7"/>
<polygon points="197.78,1295.80 206.78,1307.00 197.78,1318.20 188.78,1307.00" fill="none" stroke="#ff8000" stroke-width="2.5" stroke-opacity="0.7" stroke-linejoin="miter" stroke-miterlimit="10"/>
<polygon points="244.32,1291.00 254.92,1304.20 244.32,1317.40 233.72,1304.20" fill="#ff8000" fill-opacity="0.7"/>
<polygon points="244.32,1293.00 253.32,1304.20 244.32,1315.40 235.32,1304.20" fill="none" stroke="#ff8000" stroke-width="2.5" stroke-opacity="0.7" stroke-linejoin="miter" stroke-miterlimit="10"/>
<circle cx="244.32" cy="1413.00" r="10.20" fill="#ff8000" fill-opacity="0.7"/>
<circle cx="244.32" cy="1413.00" r="9.00" fill="none" stroke="#ff8000" stroke-width="2.4" stroke-opacity="0.7"/>
<circle cx="290.86" cy="1433.40" r="10.20" fill="#ff8000" fill-opacity="0.7"/>
<circle cx="290.86" cy="1433.40" r="9.00" fill="none" stroke="#ff8000" stroke-width="2.4" stroke-opacity="0.7"/>
<circle cx="337.40" cy="1392.20" r="10.20" fill="#ff8000" fill-opacity="0.7"/>
<circle cx="337.40" cy="1392.20" r="9.00" fill="none" stroke="#ff8000" stroke-width="2.4" stroke-opacity="0.7"/>
<circle cx="383.94" cy="1395.40" r="10.20" fill="#ff8000" fill-opacity="0.7"/>
<circle cx="383.94" cy="1395.40" r="9.00" fill="none" stroke="#ff8000" stroke-width="2.4" stroke-opacity="0.7"/>
<circle cx="430.48" cy="1383.00" r="10.20" fill="#ff8000" fill-opacity="0.7"/>
<circle cx="430.48" cy="1383.00" r="9.00" fill="none" stroke="#ff8000" stroke-width="2.4" stroke-opacity="0.7"/>
<circle cx="104.70" cy="1474.50" r="11.5" fill="#b2b2b2" stroke="#000" stroke-width="3.6"/>
<circle cx="151.24" cy="1474.50" r="11.5" fill="#b2b2b2" stroke="#000" stroke-width="3.6"/>
<circle cx="197.78" cy="1474.50" r="11.5" fill="#b2b2b2" stroke="#000" stroke-width="3.6"/>
<circle cx="290.40" cy="1126.30" r="11.6" fill="#b2b2b2" stroke="#000" stroke-width="3.7"/>
<circle cx="337.90" cy="1126.30" r="11.6" fill="#b2b2b2" stroke="#000" stroke-width="3.7"/>
<circle cx="383.40" cy="1126.30" r="11.6" fill="#b2b2b2" stroke="#000" stroke-width="3.7"/>
<circle cx="430.50" cy="1126.30" r="11.6" fill="#b2b2b2" stroke="#000" stroke-width="3.7"/>
<text transform="translate(-1.5,1100.6) scale(0.965,1)" font-size="43.8" font-weight="bold">c</text>
<line x1="541.50" y1="1107.60" x2="541.50" y2="1475.95" stroke="#000" stroke-width="1.9" />
<line x1="540.55" y1="1475.00" x2="909.80" y2="1475.00" stroke="#000" stroke-width="1.9" />
<line x1="541.50" y1="1108.30" x2="546.30" y2="1108.30" stroke="#000" stroke-width="1.9" />
<line x1="541.50" y1="1291.50" x2="546.30" y2="1291.50" stroke="#000" stroke-width="1.9" />
<line x1="572.00" y1="1475.00" x2="572.00" y2="1470.60" stroke="#000" stroke-width="1.9" />
<line x1="878.40" y1="1475.00" x2="878.40" y2="1470.60" stroke="#000" stroke-width="1.9" />
<text x="520.00" y="1506.80" font-size="25" font-weight="normal" text-anchor="start" >B Chosen</text>
<text x="822.60" y="1506.80" font-size="25" font-weight="normal" text-anchor="start" letter-spacing="0.2">A Chosen</text>
<line x1="571.60" y1="1400.70" x2="877.10" y2="1270.20" stroke="#000" stroke-width="4.3" stroke-opacity="0.72"/>
<circle cx="571.60" cy="1383.00" r="9.4" fill="none" stroke="#0000ff" stroke-width="3.7" stroke-opacity="0.7"/>
<circle cx="571.60" cy="1392.20" r="9.4" fill="none" stroke="#0000ff" stroke-width="3.7" stroke-opacity="0.7"/>
<circle cx="571.60" cy="1395.40" r="9.4" fill="none" stroke="#0000ff" stroke-width="3.7" stroke-opacity="0.7"/>
<circle cx="571.60" cy="1413.00" r="9.4" fill="none" stroke="#0000ff" stroke-width="3.7" stroke-opacity="0.7"/>
<circle cx="571.60" cy="1433.40" r="9.4" fill="none" stroke="#0000ff" stroke-width="3.7" stroke-opacity="0.7"/>
<circle cx="571.60" cy="1373.30" r="9.4" fill="none" stroke="#ff8000" stroke-width="3.7" stroke-opacity="0.7"/>
<circle cx="571.60" cy="1373.30" r="9.4" fill="none" stroke="#ff8000" stroke-width="3.7" stroke-opacity="0.7"/>
<circle cx="571.60" cy="1382.30" r="9.4" fill="none" stroke="#ff8000" stroke-width="3.7" stroke-opacity="0.7"/>
<circle cx="571.60" cy="1432.00" r="9.4" fill="none" stroke="#ff8000" stroke-width="3.7" stroke-opacity="0.7"/>
<circle cx="571.60" cy="1441.40" r="9.4" fill="none" stroke="#ff8000" stroke-width="3.7" stroke-opacity="0.7"/>
<polygon points="879.00,1203.00 888.50,1215.40 879.00,1227.80 869.50,1215.40" fill="none" stroke="#0000ff" stroke-width="3.4" stroke-opacity="0.7" stroke-linejoin="miter" stroke-miterlimit="10"/>
<polygon points="879.00,1244.30 888.50,1256.70 879.00,1269.10 869.50,1256.70" fill="none" stroke="#0000ff" stroke-width="3.4" stroke-opacity="0.7" stroke-linejoin="miter" stroke-miterlimit="10"/>
<polygon points="879.00,1263.50 888.50,1275.90 879.00,1288.30 869.50,1275.90" fill="none" stroke="#0000ff" stroke-width="3.4" stroke-opacity="0.7" stroke-linejoin="miter" stroke-miterlimit="10"/>
<polygon points="879.00,1274.60 888.50,1287.00 879.00,1299.40 869.50,1287.00" fill="none" stroke="#0000ff" stroke-width="3.4" stroke-opacity="0.7" stroke-linejoin="miter" stroke-miterlimit="10"/>
<polygon points="879.00,1208.40 888.50,1220.80 879.00,1233.20 869.50,1220.80" fill="none" stroke="#ff8000" stroke-width="3.4" stroke-opacity="0.7" stroke-linejoin="miter" stroke-miterlimit="10"/>
<polygon points="879.00,1263.20 888.50,1275.60 879.00,1288.00 869.50,1275.60" fill="none" stroke="#ff8000" stroke-width="3.4" stroke-opacity="0.7" stroke-linejoin="miter" stroke-miterlimit="10"/>
<polygon points="879.00,1292.10 888.50,1304.50 879.00,1316.90 869.50,1304.50" fill="none" stroke="#ff8000" stroke-width="3.4" stroke-opacity="0.7" stroke-linejoin="miter" stroke-miterlimit="10"/>
<polygon points="879.00,1294.60 888.50,1307.00 879.00,1319.40 869.50,1307.00" fill="none" stroke="#ff8000" stroke-width="3.4" stroke-opacity="0.7" stroke-linejoin="miter" stroke-miterlimit="10"/>
</svg>
</body>
</html>
